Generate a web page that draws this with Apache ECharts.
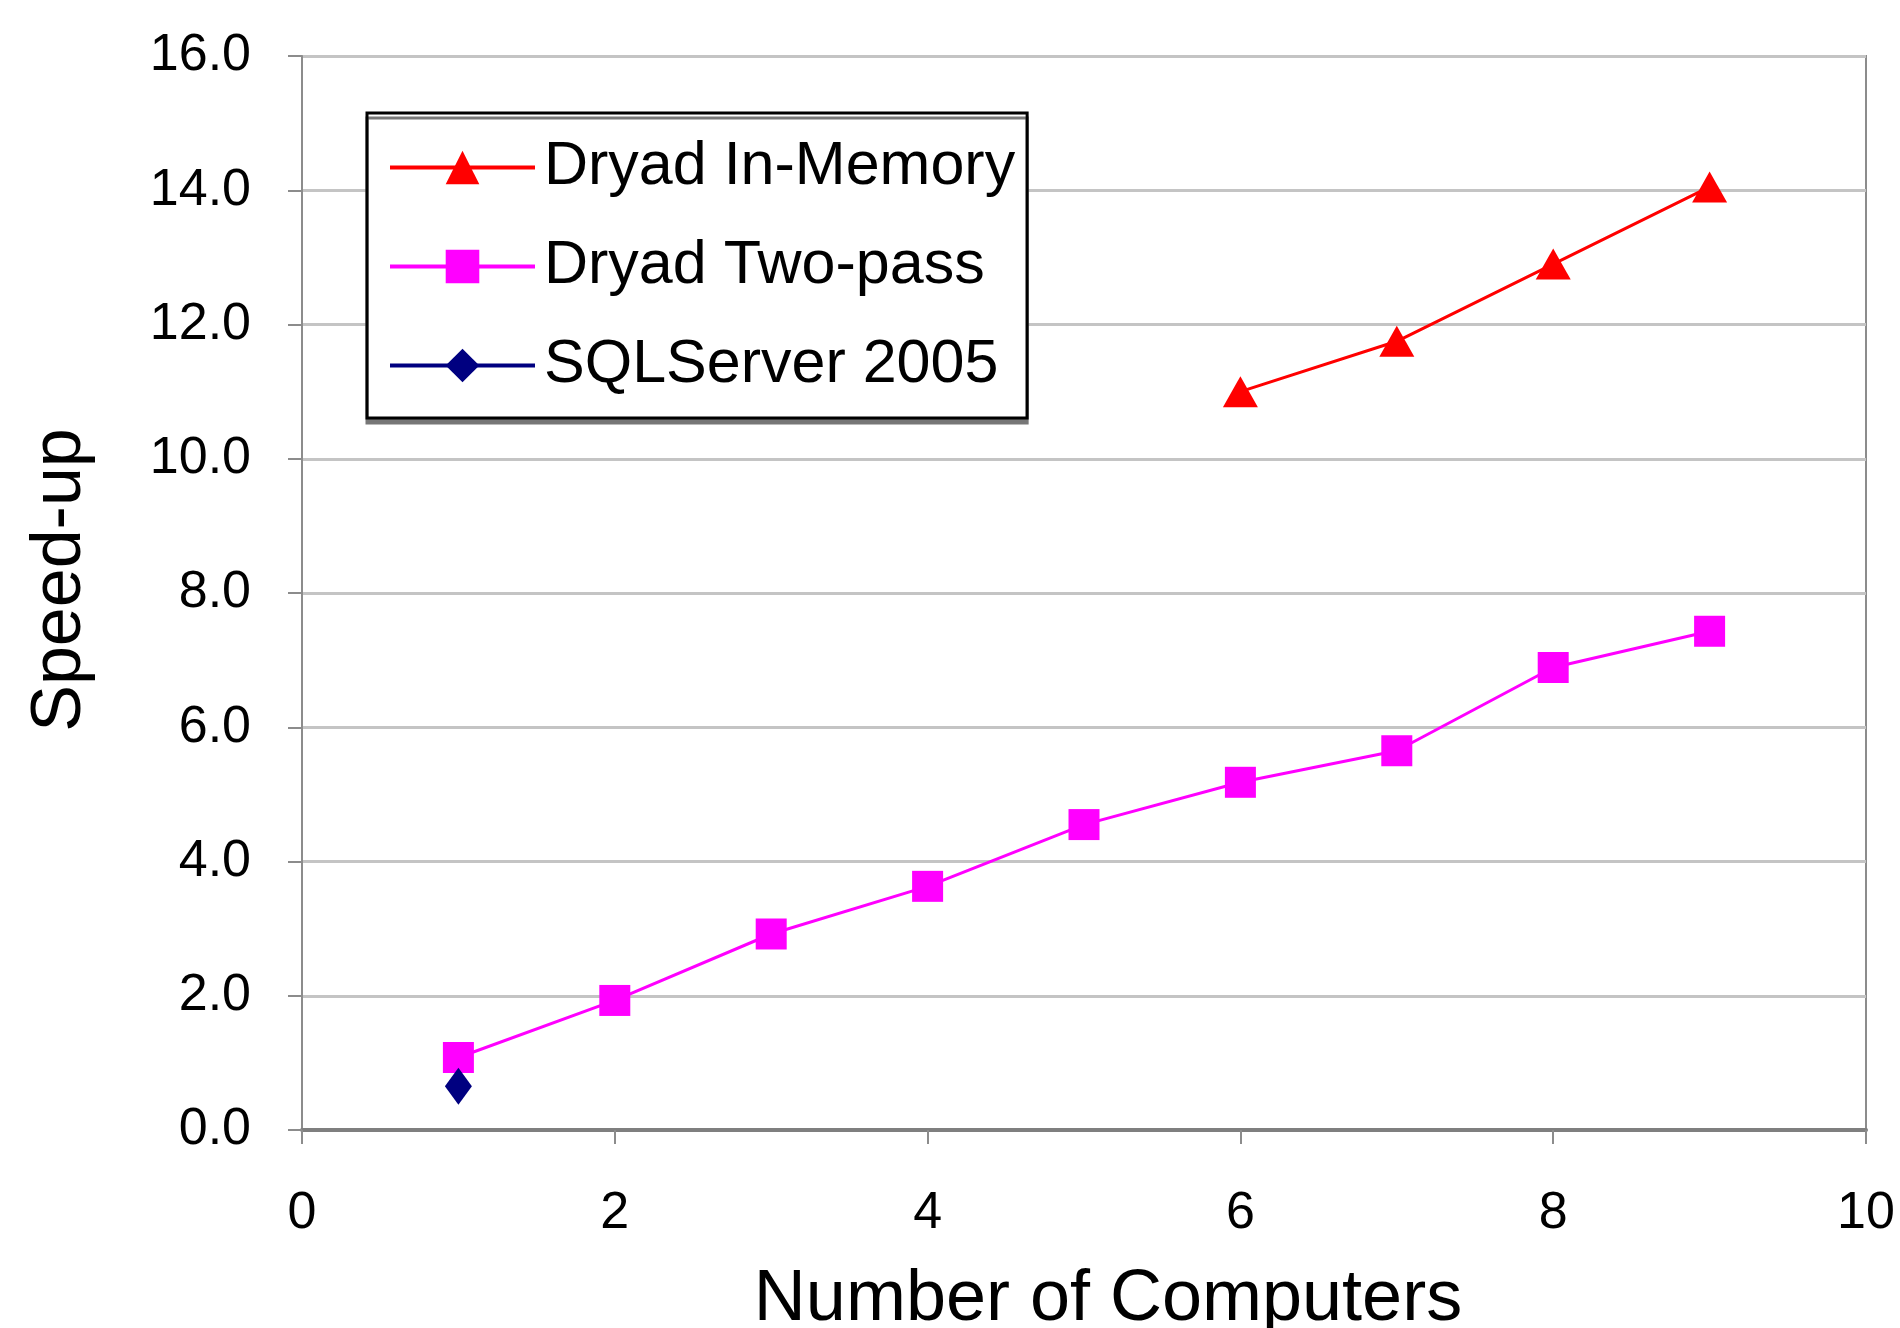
<!DOCTYPE html>
<html>
<head>
<meta charset="utf-8">
<script src="https://cdn.jsdelivr.net/npm/echarts@6/dist/echarts.min.js"></script>
<style>
  html, body { margin: 0; padding: 0; background: #fff; }
  #chart { width: 1900px; height: 1328px; }
</style>
</head>
<body>
<div id="chart"></div>
<script>
// number of computers for each series
var inMemoryX = [6, 7, 8, 9];
var twoPassX = [1, 2, 3, 4, 5, 6, 7, 8, 9];
var sqlX = [1];

// speed-up values
var inMemoryY = [11.0, 11.75, 12.9, 14.05];
var twoPassY = [1.08, 1.93, 2.92, 3.63, 4.55, 5.18, 5.65, 6.89, 7.43];
var sqlY = [0.65];

var seriesNames = ['Dryad In-Memory', 'Dryad Two-pass', 'SQLServer 2005'];

function pairs(xs, ys) {
  var out = [];
  for (var i = 0; i < xs.length; i++) {
    out.push([xs[i], ys[i]]);
  }
  return out;
}

var font = 'Liberation Sans, Arial, sans-serif';

var option = {
  animation: false,
  backgroundColor: '#fff',
  textStyle: { fontFamily: font },
  grid: {
    left: 302,
    top: 56,
    right: 34,
    bottom: 198,
    outerBoundsMode: 'none',
    show: true,
    borderColor: '#8c8c8c',
    borderWidth: 2
  },
  legend: {
    orient: 'vertical',
    left: 367,
    top: 113,
    data: seriesNames,
    itemWidth: 145,
    itemHeight: 42,
    itemGap: 38,
    padding: [24, 12, 22, 21],
    borderColor: '#000',
    borderWidth: 3,
    backgroundColor: '#fff',
    shadowColor: '#777',
    shadowOffsetY: 5,
    lineStyle: { width: 4 },
    textStyle: {
      fontFamily: font,
      fontSize: 61,
      lineHeight: 60,
      color: '#000',
      padding: [0, 0, 0, 4]
    }
  },
  xAxis: {
    type: 'value',
    min: 0,
    max: 10,
    interval: 2,
    name: 'Number of Computers',
    nameLocation: 'middle',
    nameGap: 134,
    nameTextStyle: { fontSize: 72, color: '#000', fontFamily: font, padding: [0, 0, 0, 48] },
    axisLine: { show: true, onZero: false, lineStyle: { color: '#7f7f7f', width: 4 } },
    axisTick: { show: true, length: 14, lineStyle: { color: '#8c8c8c', width: 2 } },
    axisLabel: { fontSize: 52, color: '#000', margin: 58 },
    splitLine: { show: false }
  },
  yAxis: {
    type: 'value',
    min: 0,
    max: 16,
    interval: 2,
    name: 'Speed-up',
    nameLocation: 'middle',
    nameGap: 206,
    nameTextStyle: { fontSize: 70, color: '#000', fontFamily: font, padding: [0, 0, 0, 26] },
    axisLine: { show: true, lineStyle: { color: '#8c8c8c', width: 2 } },
    axisTick: { show: true, length: 14, lineStyle: { color: '#8c8c8c', width: 2 } },
    axisLabel: {
      fontSize: 52,
      color: '#000',
      margin: 51,
      formatter: function (v) { return v.toFixed(1); }
    },
    splitLine: { show: true, lineStyle: { color: '#c4c4c4', width: 3 } }
  },
  series: [
    {
      name: seriesNames[0],
      type: 'line',
      data: pairs(inMemoryX, inMemoryY),
      symbol: 'triangle',
      symbolSize: [35, 31],
      color: '#ff0000',
      lineStyle: { color: '#ff0000', width: 3 },
      itemStyle: { color: '#ff0000' }
    },
    {
      name: seriesNames[1],
      type: 'line',
      data: pairs(twoPassX, twoPassY),
      symbol: 'rect',
      symbolSize: 31,
      color: '#ff00ff',
      lineStyle: { color: '#ff00ff', width: 3 },
      itemStyle: { color: '#ff00ff' }
    },
    {
      name: seriesNames[2],
      type: 'line',
      data: pairs(sqlX, sqlY),
      symbol: 'diamond',
      symbolSize: [27, 37],
      color: '#000080',
      lineStyle: { color: '#000080', width: 3 },
      itemStyle: { color: '#000080' }
    }
  ]
};

var chart = echarts.init(document.getElementById('chart'));
chart.setOption(option);
</script>
</body>
</html>
